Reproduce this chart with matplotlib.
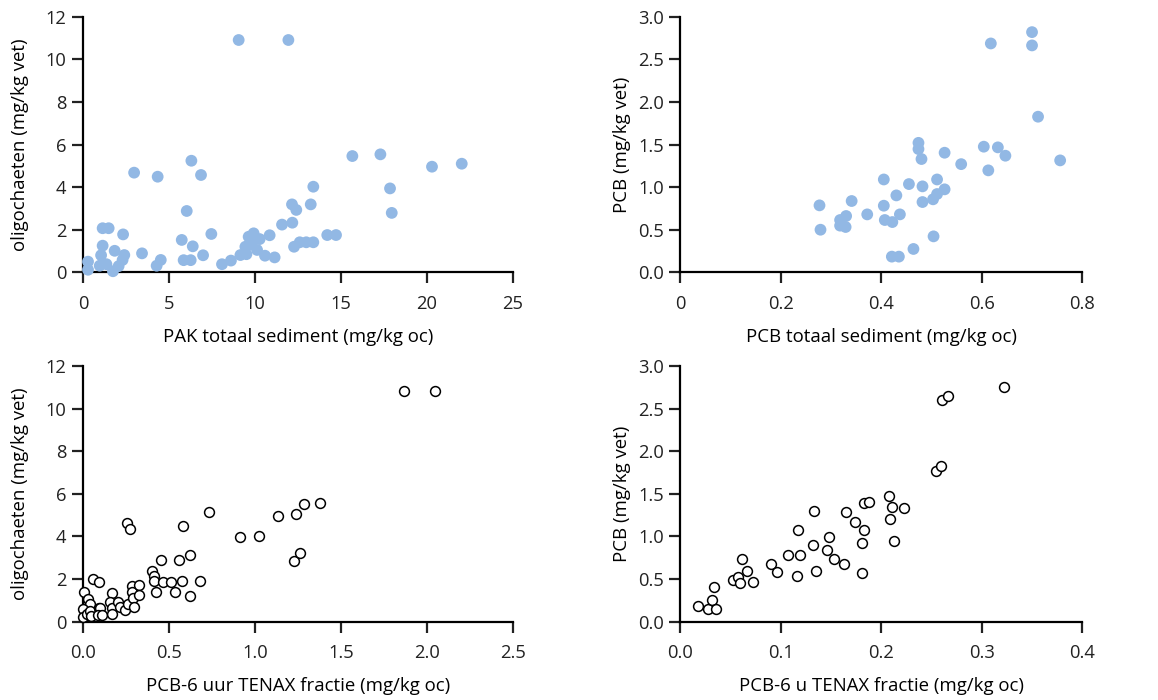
import matplotlib
matplotlib.use("Agg")
from matplotlib import pyplot as plt

# PAK: sediment (mg/kg oc) vs oligochaeten (mg/kg vet)
pak_sed = [0.29, 0.29, 1.05, 1.14, 1.14, 1.49, 0.97, 1.36, 1.74, 1.84, 2.07, 2.3, 2.4, 2.33,
           2.97, 3.43, 4.34, 4.28, 4.52, 5.74, 5.85, 6.03, 6.26, 6.3, 6.38, 6.86, 6.98, 7.46,
           8.08, 8.6, 9.05, 9.15, 9.5, 9.44, 9.63, 9.92, 9.79, 10.12, 10.27, 10.58, 10.85,
           11.14, 11.57, 11.94, 12.15, 12.17, 12.27, 12.4, 12.6, 12.98, 13.24, 13.39, 13.39,
           14.2, 14.71, 15.66, 17.29, 17.85, 17.95, 20.29, 22.02]
pak_oli = [0.5, 0.12, 0.8, 1.25, 2.07, 2.07, 0.31, 0.38, 0.05, 1.01, 0.29, 0.58, 0.81, 1.78,
           4.68, 0.89, 4.49, 0.31, 0.58, 1.52, 0.57, 2.88, 0.57, 5.24, 1.22, 4.57, 0.8, 1.8,
           0.38, 0.55, 10.91, 0.81, 0.85, 1.2, 1.67, 1.83, 1.31, 1.05, 1.56, 0.78, 1.74,
           0.7, 2.24, 10.91, 3.19, 2.33, 1.2, 2.93, 1.41, 1.41, 3.19, 1.41, 4.02,
           1.75, 1.75, 5.46, 5.54, 3.94, 2.79, 4.96, 5.1]

# PCB: sediment vs oligochaeten
pcb_sed = [0.277, 0.279, 0.318, 0.318, 0.33, 0.329, 0.341, 0.372, 0.405, 0.405, 0.407, 0.422,
           0.421, 0.435, 0.43, 0.437, 0.455, 0.464, 0.474, 0.474, 0.48, 0.482, 0.482, 0.503,
           0.504, 0.511, 0.511, 0.526, 0.526, 0.559, 0.604, 0.613, 0.618, 0.632, 0.647, 0.70,
           0.70, 0.712, 0.756]
pcb_oli = [0.786, 0.5, 0.614, 0.548, 0.661, 0.532, 0.837, 0.68, 1.09, 0.782, 0.614, 0.59,
           0.184, 0.184, 0.903, 0.68, 1.036, 0.274, 1.52, 1.447, 1.33, 1.009, 0.825, 0.857,
           0.422, 1.09, 0.919, 0.974, 1.404, 1.27, 1.475, 1.197, 2.687, 1.467, 1.369, 2.82,
           2.664, 1.827, 1.314]

# PCB-6 uur TENAX fractie vs oligochaeten (PAK set)
tenax_a = [1.865, 2.047, 0.731, 0.58, 0.255, 0.273, 0.451, 0.559, 0.621, 0.40, 0.41, 0.411,
           0.464, 0.51, 0.575, 0.679, 0.423, 0.532, 0.623, 0.911, 1.026, 1.136, 1.236, 1.285,
           1.378, 1.227, 1.26, 0.057, 0.091, 0.004, 0.028, 0.042, 0.0, 0.0, 0.023, 0.042,
           0.047, 0.091, 0.098, 0.085, 0.109, 0.17, 0.157, 0.166, 0.166, 0.202, 0.217, 0.242,
           0.264, 0.283, 0.283, 0.292, 0.298, 0.326, 0.326]
oli_a = [10.83, 10.81, 5.17, 4.51, 4.64, 4.36, 2.91, 2.87, 3.15, 2.4, 2.13, 1.9,
         1.87, 1.84, 1.9, 1.93, 1.37, 1.37, 1.22, 3.96, 4.01, 4.97, 5.06, 5.53,
         5.56, 2.84, 3.21, 2.0, 1.85, 1.39, 1.07, 0.85, 0.59, 0.21, 0.35, 0.52,
         0.27, 0.66, 0.66, 0.32, 0.32, 1.32, 0.93, 0.66, 0.38, 0.93, 0.68, 0.56,
         0.81, 1.65, 1.4, 1.09, 0.67, 1.74, 1.26]

# PCB-6 u TENAX fractie vs PCB
tenax_b = [0.0179, 0.0272, 0.0315, 0.0352, 0.0335, 0.0524, 0.057, 0.059, 0.0617, 0.0667,
           0.072, 0.0899, 0.0959, 0.1068, 0.1158, 0.1167, 0.1191, 0.1317, 0.133, 0.1347,
           0.1459, 0.1476, 0.1532, 0.1625, 0.1652, 0.1738, 0.1811, 0.1811, 0.1828, 0.1824,
           0.188, 0.2076, 0.2083, 0.2103, 0.2129, 0.2229, 0.2544, 0.2594, 0.2604, 0.2667,
           0.322]
pcb_b = [0.188, 0.149, 0.255, 0.149, 0.407, 0.486, 0.521, 0.45, 0.74, 0.6,
         0.47, 0.674, 0.587, 0.783, 0.533, 1.073, 0.779, 0.905, 1.30, 0.595,
         0.842, 0.999, 0.74, 0.674, 1.289, 1.175, 0.92, 0.572, 1.081, 1.398,
         1.406, 1.469, 1.206, 1.343, 0.944, 1.332, 1.766, 1.825, 2.597, 2.648,
         2.753]

plt.rcParams['font.family'] = ['Open Sans', 'DejaVu Sans']
plt.rcParams['font.size'] = 13.4

fig = plt.figure(figsize=(11.58, 7.0), dpi=100)
ax1 = fig.add_axes([0.0717, 0.611, 0.3713, 0.365])
ax2 = fig.add_axes([0.5875, 0.611, 0.3471, 0.365])
ax3 = fig.add_axes([0.0717, 0.112, 0.3713, 0.365])
ax4 = fig.add_axes([0.5875, 0.112, 0.3471, 0.365])

blue = '#92B8E4'
ax1.scatter(pak_sed, pak_oli, s=72, color=blue, edgecolors='none', clip_on=False, zorder=3)
ax2.scatter(pcb_sed, pcb_oli, s=72, color=blue, edgecolors='none', clip_on=False, zorder=3)
ax3.scatter(tenax_a, oli_a, s=50, facecolors='white', edgecolors='black', linewidths=1.1,
            clip_on=False, zorder=3)
ax4.scatter(tenax_b, pcb_b, s=50, facecolors='white', edgecolors='black', linewidths=1.1,
            clip_on=False, zorder=3)

ax1.set_xlim(0, 25)
ax1.set_xticks([0, 5, 10, 15, 20, 25])
ax1.set_ylim(0, 12)
ax1.set_yticks([0, 2, 4, 6, 8, 10, 12])
ax1.set_xlabel('PAK totaal sediment (mg/kg oc)')
ax1.set_ylabel('oligochaeten (mg/kg vet)', labelpad=12)

ax2.set_xlim(0, 0.8)
ax2.set_xticks([0, 0.2, 0.4, 0.6, 0.8])
ax2.set_xticklabels(['0', '0.2', '0.4', '0.6', '0.8'])
ax2.set_ylim(0, 3)
ax2.set_yticks([0, 0.5, 1, 1.5, 2, 2.5, 3])
ax2.set_yticklabels(['0.0', '0.5', '1.0', '1.5', '2.0', '2.5', '3.0'])
ax2.set_xlabel('PCB totaal sediment (mg/kg oc)')
ax2.set_ylabel('PCB (mg/kg vet)', labelpad=5)

ax3.set_xlim(0, 2.5)
ax3.set_xticks([0, 0.5, 1, 1.5, 2, 2.5])
ax3.set_xticklabels(['0.0', '0.5', '1.0', '1.5', '2.0', '2.5'])
ax3.set_ylim(0, 12)
ax3.set_yticks([0, 2, 4, 6, 8, 10, 12])
ax3.set_xlabel('PCB-6 uur TENAX fractie (mg/kg oc)')
ax3.set_ylabel('oligochaeten (mg/kg vet)', labelpad=12)

ax4.set_xlim(0, 0.4)
ax4.set_xticks([0, 0.1, 0.2, 0.3, 0.4])
ax4.set_xticklabels(['0.0', '0.1', '0.2', '0.3', '0.4'])
ax4.set_ylim(0, 3)
ax4.set_yticks([0, 0.5, 1, 1.5, 2, 2.5, 3])
ax4.set_yticklabels(['0.0', '0.5', '1.0', '1.5', '2.0', '2.5', '3.0'])
ax4.set_xlabel('PCB-6 u TENAX fractie (mg/kg oc)')
ax4.set_ylabel('PCB (mg/kg vet)', labelpad=5)

for ax in [ax1, ax2, ax3, ax4]:
    ax.spines['top'].set_visible(False)
    ax.spines['right'].set_visible(False)
    ax.spines['left'].set_linewidth(1.6)
    ax.spines['bottom'].set_linewidth(1.6)
    ax.tick_params(direction='out', length=8, width=1.6, labelsize=13.2, colors='#222222')
    ax.tick_params(axis='x', pad=8)
    ax.tick_params(axis='y', pad=4)
    ax.xaxis.labelpad = 11

fig.savefig('out.png', dpi=100)
